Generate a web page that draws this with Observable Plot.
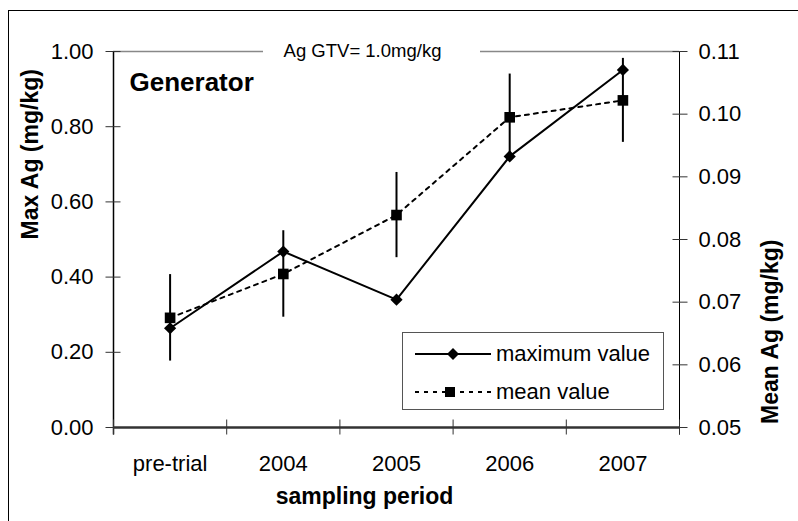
<!DOCTYPE html>
<html>
<head>
<meta charset="utf-8">
<script src="https://cdn.jsdelivr.net/npm/d3@7"></script>
<script src="https://cdn.jsdelivr.net/npm/@observablehq/plot@0.6"></script>
<style>
  html, body { margin: 0; padding: 0; background: #fff; }
  #wrap { position: relative; width: 798px; height: 521px; overflow: hidden; font-family: "Liberation Sans", Arial, sans-serif; }
  #frame { position: absolute; left: 8px; top: 10px; width: 900px; height: 600px; border-top: 1.5px solid #000; border-left: 1.5px solid #000; pointer-events: none; }
  #chart { position: absolute; left: 0; top: 0; }
  #legend { position: absolute; left: 402px; top: 332px; width: 260px; height: 76px; border: 1px solid #555; background: #fff; }
  #legend .row { position: absolute; left: 0; height: 30px; display: flex; align-items: center; }
  #legend svg { display: block; }
  #legend span { font-size: 22px; color: #000; margin-left: 4px; white-space: nowrap; }
</style>
</head>
<body>
<div id="wrap">
  <div id="chart"></div>
  <div id="frame"></div>
  <div id="legend">
    <div class="row" style="top:6px;left:12px">
      <svg width="77" height="30"><line x1="0" y1="15" x2="76" y2="15" stroke="#000" stroke-width="2"/><path d="M38,9 L44,15 L38,21 L32,15 Z" fill="#000"/></svg>
      <span>maximum value</span>
    </div>
    <div class="row" style="top:44px;left:12px">
      <svg width="77" height="30"><line x1="0" y1="15" x2="76" y2="15" stroke="#000" stroke-width="2" stroke-dasharray="4,5"/><rect x="30" y="10" width="10" height="10" fill="#000"/></svg>
      <span>mean value</span>
    </div>
  </div>
</div>
<script>
const categories = ["pre-trial", "2004", "2005", "2006", "2007"];
const maxValues = [0.264, 0.468, 0.340, 0.721, 0.951];
const meanValues = [0.0675, 0.0745, 0.0839, 0.0995, 0.1022];
const meanErrors = [0.0069, 0.0069, 0.0068, 0.0069, 0.0067];
const maxTicks = [0, 0.2, 0.4, 0.6, 0.8, 1.0];
const meanTicks = [0.05, 0.06, 0.07, 0.08, 0.09, 0.10, 0.11];
const meanMin = 0.05, meanMax = 0.11;
const gtv = 1.0;
const gtvLabel = "Ag GTV= 1.0mg/kg";
const panelTitle = "Generator";
const leftTitle = "Max Ag (mg/kg)";
const rightTitle = "Mean Ag (mg/kg)";
const xTitle = "sampling period";

const toLeft = v => (v - meanMin) / (meanMax - meanMin);
const fromLeft = d => meanMin + d * (meanMax - meanMin);
const idx = categories.map((_, i) => i);
const bounds = d3.range(0, categories.length + 1).map(i => i - 0.5);
const rows = categories.map((c, i) => ({
  i, c,
  max: maxValues[i],
  mean: toLeft(meanValues[i]),
  lo: toLeft(meanValues[i] - meanErrors[i]),
  hi: toLeft(meanValues[i] + meanErrors[i])
}));

const FONT = '"Liberation Sans", Arial, sans-serif';

const chart = Plot.plot({
  width: 798, height: 521,
  marginLeft: 113, marginRight: 119, marginTop: 51, marginBottom: 94,
  x: {domain: [-0.5, categories.length - 0.5], label: null},
  y: {domain: [0, 1], label: null},
  style: {fontFamily: FONT, fontSize: "22px", color: "#000", background: "transparent", overflow: "visible"},
  marks: [
    // guideline value
    Plot.ruleY([gtv], {stroke: "#888", strokeWidth: 1.5, insetRight: 416}),
    Plot.ruleY([gtv], {stroke: "#888", strokeWidth: 1.5, insetLeft: 367, insetRight: 0}),
    Plot.text([gtv], {y: d => d, frameAnchor: "left", textAnchor: "middle", dx: 249, text: () => gtvLabel, fontSize: 18.5, fill: "#000"}),
    // axis lines
    Plot.ruleX([-0.5], {stroke: "#000", strokeWidth: 1.5, insetBottom: -7.5}),
    Plot.ruleX([categories.length - 0.5], {stroke: "#000", strokeWidth: 1, insetBottom: -7.5}),
    Plot.ruleY([0], {stroke: "#333", strokeWidth: 2.5}),
    // ticks (crossing)
    Plot.axisY(maxTicks, {anchor: "left", tickSize: 15, dx: 7.5, tickFormat: () => "", stroke: "#333", label: null}),
    Plot.axisY(maxTicks, {anchor: "left", tickSize: 0, tickPadding: 20, tickFormat: d => d.toFixed(2), fontSize: 22, label: null}),
    Plot.axisY(meanTicks.map(toLeft), {anchor: "right", tickSize: 15, dx: -7.5, tickFormat: () => "", stroke: "#333", label: null}),
    Plot.axisY(meanTicks.map(toLeft), {anchor: "right", tickSize: 0, tickPadding: 19, tickFormat: d => fromLeft(d).toFixed(2), fontSize: 22, label: null}),
    Plot.axisX(bounds, {anchor: "bottom", tickSize: 15, dy: -7.5, tickFormat: () => "", stroke: "#333", label: null}),
    Plot.axisX(idx, {anchor: "bottom", tickSize: 0, tickPadding: 28, tickFormat: i => categories[i], fontSize: 22, label: null}),
    // titles
    Plot.text([leftTitle], {frameAnchor: "left", rotate: -90, dx: -83, text: d => d, fontWeight: "bold", fontSize: 23}),
    Plot.text([rightTitle], {frameAnchor: "right", rotate: -90, dx: 91, text: d => d, fontWeight: "bold", fontSize: 23}),
    Plot.text([xTitle], {frameAnchor: "bottom", dx: -32, dy: 76, text: d => d, fontWeight: "bold", fontSize: 23}),
    Plot.text([panelTitle], {frameAnchor: "top-left", textAnchor: "start", lineAnchor: "top", dx: 16, dy: 21, text: d => d, fontWeight: "bold", fontSize: 26}),
    // data
    Plot.ruleX(rows, {x: "i", y1: "lo", y2: "hi", stroke: "#000", strokeWidth: 2}),
    Plot.line(rows, {x: "i", y: "mean", stroke: "#000", strokeWidth: 2, strokeDasharray: "4,5"}),
    Plot.line(rows, {x: "i", y: "max", stroke: "#000", strokeWidth: 2}),
    Plot.dot(rows, {x: "i", y: "mean", symbol: "square", r: 6, fill: "#000", stroke: "none"}),
    Plot.dot(rows, {x: "i", y: "max", symbol: "diamond2", r: 5.5, fill: "#000", stroke: "none"})
  ]
});
document.getElementById("chart").appendChild(chart);
</script>
</body>
</html>
